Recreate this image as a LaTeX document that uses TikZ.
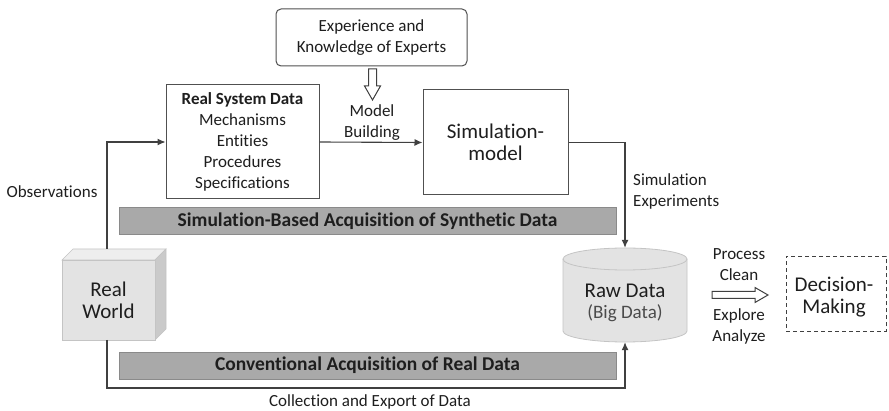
\documentclass[tikz,border=0pt]{standalone}
\usepackage{fontspec}
\setmainfont{Carlito}[Ligatures={NoCommon}]
\usetikzlibrary{arrows.meta}
\definecolor{linegray}{HTML}{404040}
\definecolor{txt}{HTML}{1E1E1E}
\definecolor{bandfill}{HTML}{A9A9A9}
\definecolor{bandedge}{HTML}{8A8A8A}
\definecolor{boxedge}{HTML}{505050}
\definecolor{solidfront}{HTML}{E3E3E3}
\definecolor{solidtop}{HTML}{EEEEEE}
\definecolor{solidside}{HTML}{CACACA}
\definecolor{solidedge}{HTML}{C4C4C4}
\begin{document}
\begin{tikzpicture}[x=1pt,y=-1pt,
  every node/.style={text=txt, inner sep=0pt},
  small/.style={font=\fontsize{17}{21}\selectfont, align=center},
  large/.style={font=\fontsize{21}{22}\selectfont, align=center},
  plainbox/.style={draw=boxedge, line width=1pt, fill=white},
  band/.style={draw=bandedge, line width=0.8pt, fill=bandfill,
    font=\bfseries\fontsize{19.5}{21}\selectfont, minimum width=497pt, minimum height=27pt},
  flow/.style={draw=linegray, line width=1.1pt, -{Latex[length=8pt,width=7pt]}},
  hollow/.style={draw=linegray, line width=1pt, fill=white, line join=miter}
]
\useasboundingbox (0,0) rectangle (889,411);

% --- boxes ---
\node[plainbox, small, rounded corners=5pt, minimum width=191pt, minimum height=57pt]
  (experts) at (371.5,37.5) {Experience and\\Knowledge of Experts};
\node[plainbox, small, minimum width=153pt, minimum height=114pt]
  (rsd) at (242.5,142) {\textbf{Real System Data}\\Mechanisms\\Entities\\Procedures\\Specifications};
\node[plainbox, large, minimum width=145pt, minimum height=105pt]
  (sim) at (495.5,142.5) {Simulation-\\model};
\node[small] (mb) at (372,123) {Model\\Building};
\node[small, align=left, anchor=west] (simexp) at (633,191.5) {Simulation\\Experiments};

% --- acquisition bands ---
\node[band] (synth) at (367.5,221) {Simulation-Based Acquisition of Synthetic Data};
\node[band] (conv) at (367.5,365.5) {Conventional Acquisition of Real Data};

% --- real world block ---
\fill[solidtop, draw=solidedge, line width=0.6pt] (62,260) -- (73,249) -- (166,249) -- (155,260) -- cycle;
\fill[solidside, draw=solidedge, line width=0.6pt] (155,260) -- (166,249) -- (166,329) -- (155,340) -- cycle;
\node[large, fill=solidfront, draw=solidedge, line width=0.6pt, minimum width=93pt, minimum height=80pt]
  (world) at (108.5,300) {Real\\World};
\coordinate (worldtop) at (107,249);
\coordinate (worldbot) at (107,340);

% --- raw data store (y axis points down, so angles run clockwise) ---
\fill[solidfront, draw=solidedge, line width=0.8pt]
  (563,259) -- (563,331) arc[start angle=180, end angle=0, x radius=62, y radius=11]
  -- (687,259) arc[start angle=0, end angle=-180, x radius=62, y radius=11] -- cycle;
\draw[solidedge, line width=0.8pt] (563,259) arc[start angle=180, end angle=0, x radius=62, y radius=11];
\node[minimum width=124pt, minimum height=94pt] (raw) at (625,295) {};
\node[align=center] (rawtxt) at (625,303)
  {\fontsize{21}{22}\selectfont Raw Data\\[6pt]{\fontsize{19}{20}\selectfont\color{txt!80!white}(Big Data)}};

% --- decision ---
\node[draw=linegray, dashed, dash pattern=on 4pt off 3pt, line width=1pt,
  minimum width=100pt, minimum height=75pt] (dec) at (836,294) {};
\node[large] (dectxt) at (834,297) {Decision-\\Making};
\node[small] (proc) at (739,265) {Process\\Clean};
\node[small] (expl) at (739,326.5) {Explore\\Analyze};

% --- labels ---
\node[small] (obs) at (52,192) {Observations};
\node[small] (coll) at (370,402) {Collection and Export of Data};

% --- connectors ---
\draw[flow] (rsd.east) -- (sim.west);
\draw[flow] (sim.east) -| (raw.north);
\draw[flow] (worldtop) |- (rsd.west);
\draw[flow] (worldbot) -- (107,388) -| (raw.south);

% --- hollow arrows ---
\draw[hollow] (368.5,69) -- (376.5,69) -- (376.5,86) -- (380.5,86) -- (372.5,100)
  -- (364.5,86) -- (368.5,86) -- cycle;
\draw[hollow] (712,291.5) -- (755,291.5) -- (755,287.5) -- (768,295) -- (755,302.5)
  -- (755,298.5) -- (712,298.5) -- cycle;
\end{tikzpicture}
\end{document}
